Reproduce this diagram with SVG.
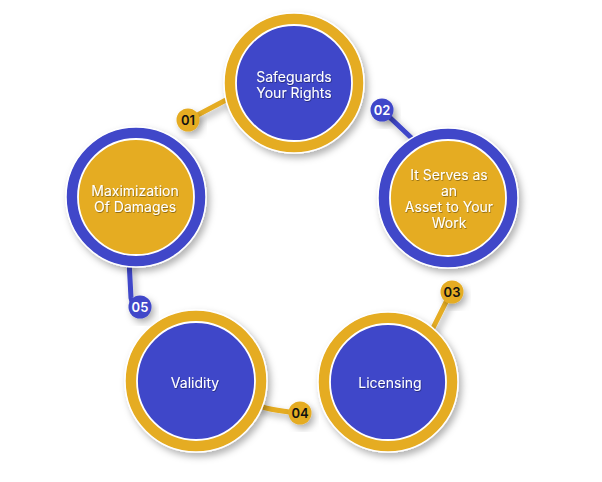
<svg xmlns="http://www.w3.org/2000/svg" width="602" height="482" viewBox="0 0 602 482">
<defs>
<filter id="sh" x="-30%" y="-30%" width="160%" height="160%">
<feDropShadow dx="3" dy="4" stdDeviation="3.5" flood-color="#000" flood-opacity="0.3"/>
</filter>
<filter id="tsh" x="-10%" y="-30%" width="120%" height="160%">
<feDropShadow dx="0.6" dy="0.8" stdDeviation="0.6" flood-color="#000" flood-opacity="0.45"/>
</filter>
<style>
.gold{fill:#E5AC22}
.blue{fill:#3F47C9}
.ring{stroke:#fff;stroke-width:1.5}
.inner{stroke:#fff;stroke-width:1.8}
.lbl{font-family:Inter,"Noto Sans",sans-serif;font-size:14px;fill:#fff;text-anchor:middle}
.num{font-family:Inter,"Noto Sans",sans-serif;font-size:13px;font-weight:600;text-anchor:middle}
.cg{stroke:#E5AC22;stroke-width:5;fill:none;stroke-linecap:round}
.cb{stroke:#3F47C9;stroke-width:5;fill:none;stroke-linecap:round}
</style>
</defs>
<rect width="602" height="482" fill="#fff"/>
<g id="connectors" filter="url(#sh)">
<path class="cg" d="M190 119 L226 100"/>
<path class="cb" d="M383 111 L420 146"/>
<path class="cg" d="M451 292 L430 334"/>
<path class="cg" d="M255 404 Q266 410 299 413"/>
<path class="cb" d="M129 260 L131 298 Q132 306 139 307"/>
</g>
<g id="node1">
<circle cx="294" cy="83" r="70" class="gold ring" filter="url(#sh)"/>
<circle cx="294" cy="83" r="58" class="blue inner"/>
<g filter="url(#tsh)">
<text class="lbl" x="294" y="82">Safeguards</text>
<text class="lbl" x="294" y="98">Your Rights</text>
</g>
</g>
<g id="node2">
<circle cx="448" cy="198" r="70" class="blue ring" filter="url(#sh)"/>
<circle cx="448" cy="198" r="58" class="gold inner"/>
<g filter="url(#tsh)">
<text class="lbl" x="449" y="180">It Serves as</text>
<text class="lbl" x="449" y="196">an</text>
<text class="lbl" x="449" y="212">Asset to Your</text>
<text class="lbl" x="449" y="228">Work</text>
</g>
</g>
<g id="node3">
<circle cx="388" cy="382" r="70" class="gold ring" filter="url(#sh)"/>
<circle cx="388" cy="382" r="58" class="blue inner"/>
<text class="lbl" x="390" y="388" filter="url(#tsh)">Licensing</text>
</g>
<g id="node4">
<circle cx="196" cy="381" r="71" class="gold ring" filter="url(#sh)"/>
<circle cx="196" cy="381" r="59" class="blue inner"/>
<text class="lbl" x="195" y="388" filter="url(#tsh)">Validity</text>
</g>
<g id="node5">
<circle cx="136" cy="197" r="70" class="blue ring" filter="url(#sh)"/>
<circle cx="136" cy="197" r="58" class="gold inner"/>
<g filter="url(#tsh)">
<text class="lbl" x="135" y="196">Maximization</text>
<text class="lbl" x="135" y="212">Of Damages</text>
</g>
</g>
<g id="badge01">
<circle cx="188" cy="120" r="11.5" class="gold" filter="url(#sh)"/>
<text class="num" x="188" y="124.5" fill="#111">01</text>
</g>
<g id="badge02">
<circle cx="382" cy="110" r="11.5" class="blue" filter="url(#sh)"/>
<text class="num" x="382" y="114.5" fill="#fff">02</text>
</g>
<g id="badge03">
<circle cx="452" cy="292" r="11.5" class="gold" filter="url(#sh)"/>
<text class="num" x="452" y="296.5" fill="#111">03</text>
</g>
<g id="badge04">
<circle cx="300" cy="413" r="11.5" class="gold" filter="url(#sh)"/>
<text class="num" x="300" y="417.5" fill="#111">04</text>
</g>
<g id="badge05">
<circle cx="140" cy="307" r="11.5" class="blue" filter="url(#sh)"/>
<text class="num" x="140" y="311.5" fill="#fff">05</text>
</g>
</svg>
